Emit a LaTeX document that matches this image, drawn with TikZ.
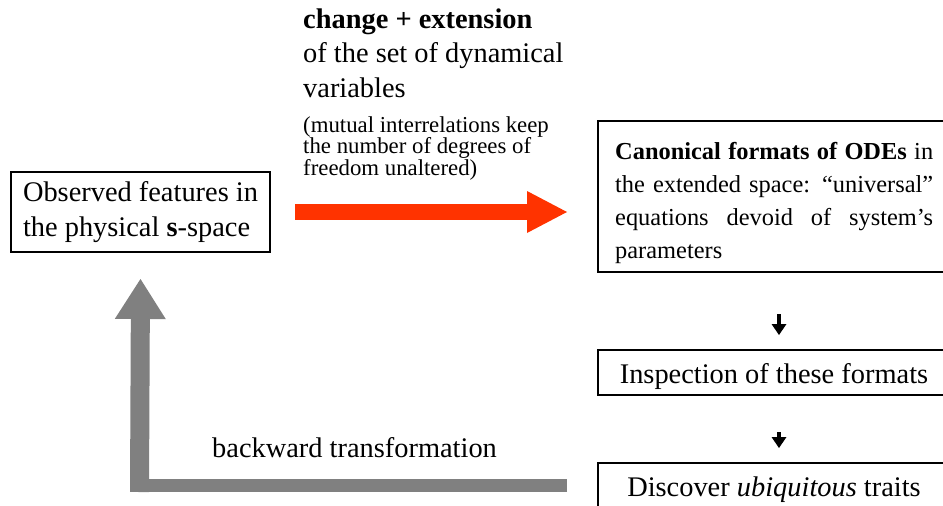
\documentclass[tikz,border=0pt]{standalone}
\usepackage{fontspec}
\setmainfont{Liberation Serif}
\usetikzlibrary{arrows.meta, positioning, calc}
\definecolor{cFlow}{RGB}{255,51,0}
\definecolor{cBack}{RGB}{128,128,128}
\tikzset{
	framebox/.style ={rectangle, draw=black, line width=2pt, align=left},
	bigtext/.style  ={font=\fontsize{28.4}{34.5}\selectfont},
	midtext/.style  ={font=\fontsize{24.4}{32.7}\selectfont},
	smalltext/.style={font=\fontsize{22.8}{21.3}\selectfont},
	% thick block arrows
	flowarrow/.style={line width=16pt, cFlow, -{Triangle[length=40pt, width=42pt, line width=0pt]}},
	backbar/.style  ={line width=13pt, cBack},
	backarrow/.style={line width=19pt, cBack, -{Triangle[length=40pt, width=51pt, line width=0pt]}},
	stepline/.style ={line width=3.5pt, -{Triangle[length=11pt, width=15pt, line width=0pt]}},
}
\newcommand{\fullline}[1]{\makebox[318pt][s]{#1}}
\begin{document}
\begin{tikzpicture}[x=1pt, y=-1pt]
	\clip (0,0) rectangle (943,506);
	% boxes
	\node[framebox, bigtext, anchor=north west, minimum width=259pt, minimum height=80pt, inner xsep=12pt] (obs) at (10,171) {Observed features in\\the physical \textbf{s}-space};
	\node[framebox, anchor=north west, minimum width=352pt, minimum height=151pt] (canon) at (597,120) {};
	\node[midtext, anchor=base west, align=left, inner sep=0pt] (canontext) at ([xshift=18pt, yshift=-138pt]canon.north west) {\fullline{\textbf{Canonical formats of ODEs} in}\\\fullline{the extended space: “universal”}\\\fullline{equations devoid of system’s}\\parameters};
	\node[framebox, bigtext, anchor=north west, minimum width=352pt, text height=33pt, text depth=12pt, inner ysep=0pt] (insp) at (597,349) {Inspection of these formats};
	\node[framebox, bigtext, anchor=north west, minimum width=352pt, text height=33pt, text depth=12pt, inner ysep=0pt] (disc) at (597,462) {Discover \textit{ubiquitous} traits};
	% labels
	\node[bigtext, anchor=base west, align=left, inner sep=0pt] (change) at (303,97) {\textbf{change + extension}\\of the set of dynamical\\variables};
	\node[smalltext, anchor=base west, align=left, inner sep=0pt] (note) at (303,175) {(mutual interrelations keep\\the number of degrees of\\freedom unaltered)};
	\node[bigtext, anchor=base west, inner sep=0pt] (backlbl) at (212,457) {backward transformation};
	% arrows
	\draw[flowarrow] ([xshift=24pt]obs.east) -- ([xshift=-30pt]canon.west |- obs.east);
	\draw[stepline, shorten <=41pt, shorten >=14pt] ([xshift=5pt]canon.south) -- ([xshift=5pt]insp.north);
	\draw[stepline, shorten <=36pt, shorten >=14pt] ([xshift=5pt]insp.south) -- ([xshift=5pt]disc.north);
	\coordinate (turn) at ([xshift=-1pt]obs.south |- disc.west);
	\draw[backbar] ([xshift=-30pt]disc.west) -- ([xshift=-9.5pt]turn);
	\draw[backarrow] ([yshift=-6.5pt]turn) -- ([yshift=-26pt]obs.south);
\end{tikzpicture}
\end{document}
